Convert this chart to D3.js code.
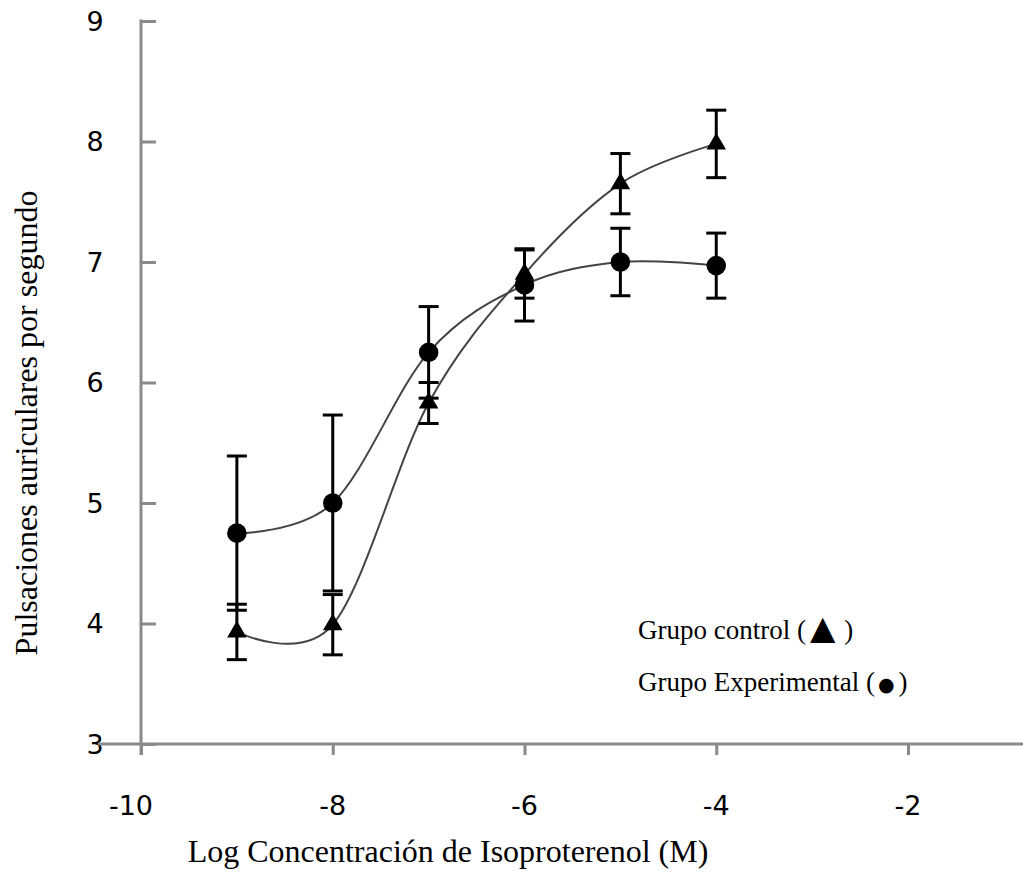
<!DOCTYPE html>
<html>
<head>
<meta charset="utf-8">
<script src="https://cdn.jsdelivr.net/npm/d3@7"></script>
<style>
  body { margin: 0; background: #fff; }
  svg { display: block; }
</style>
</head>
<body>
<div id="chart"></div>
<script>
// log concentration (x) for every dose
var doses = [-9, -8, -7, -6, -5, -4];
// grupo control (triangles)
var controlMean = [3.93, 3.99, 5.83, 6.90, 7.65, 7.98];
var controlErr  = [0.23, 0.25, 0.17, 0.20, 0.25, 0.28];
// grupo experimental (circles)
var expMean = [4.75, 5.00, 6.25, 6.81, 7.00, 6.97];
var expErr  = [0.64, 0.73, 0.38, 0.30, 0.28, 0.27];

var xTicks = [-10, -8, -6, -4, -2];
var yTicks = [3, 4, 5, 6, 7, 8, 9];

var legendLabels = ['Grupo control (', 'Grupo Experimental ('];
var legendSymbols = ['\u25B2', '\u25CF'];

var width = 1023;
var height = 876;

var svg = d3.select('#chart')
    .append('svg')
    .attr('width', width)
    .attr('height', height);

var x = d3.scaleLinear().domain([-10, -2]).range([141, 908]);
var y = d3.scaleLinear().domain([3, 9]).range([744, 21]);

var axisColor = '#8a8a8a';

// y axis, ticks pointing inwards
var yAxis = svg.append('g')
    .attr('transform', 'translate(141,0)')
    .call(d3.axisRight(y).tickValues(yTicks).tickSize(15).tickFormat(''));
yAxis.select('.domain').remove();
yAxis.selectAll('line').attr('stroke', axisColor).attr('stroke-width', 3);
svg.append('line')
    .attr('x1', 141).attr('x2', 141)
    .attr('y1', y(9) - 1.5).attr('y2', 755)
    .attr('stroke', axisColor).attr('stroke-width', 3);

svg.selectAll('.ylab')
    .data(yTicks)
    .enter()
    .append('text')
    .attr('class', 'ylab')
    .attr('x', 95)
    .attr('y', function(d) { return y(d); })
    .attr('dy', '0.36em')
    .attr('text-anchor', 'middle')
    .style('font-family', 'DejaVu Sans')
    .style('font-size', '27px')
    .text(function(d) { return d; });

// x axis
var xAxis = svg.append('g')
    .attr('transform', 'translate(0,744)')
    .call(d3.axisBottom(x).tickValues(xTicks).tickSize(11).tickFormat(''));
xAxis.select('.domain').remove();
xAxis.selectAll('line').attr('stroke', axisColor).attr('stroke-width', 3);
svg.append('line')
    .attr('x1', 98).attr('x2', 1023)
    .attr('y1', 744).attr('y2', 744)
    .attr('stroke', axisColor).attr('stroke-width', 3);

svg.selectAll('.xlab')
    .data(xTicks)
    .enter()
    .append('text')
    .attr('class', 'xlab')
    .attr('x', function(d) { return x(d) - (d === -10 ? 10 : 0); })
    .attr('y', 815)
    .attr('text-anchor', 'middle')
    .style('font-family', 'DejaVu Sans')
    .style('font-size', '27px')
    .text(function(d) { return d; });

// axis titles
svg.append('text')
    .attr('x', 448)
    .attr('y', 862)
    .attr('text-anchor', 'middle')
    .style('font-family', 'Liberation Serif')
    .style('font-size', '32px')
    .text('Log Concentración de Isoproterenol (M)');

svg.append('text')
    .attr('transform', 'translate(37,423) rotate(-90)')
    .attr('text-anchor', 'middle')
    .style('font-family', 'Liberation Serif')
    .style('font-size', '32px')
    .text('Pulsaciones auriculares por segundo');

// smoothed lines
var line = d3.line()
    .x(function(d) { return x(d[0]); })
    .y(function(d) { return y(d[1]); })
    .curve(d3.curveCardinal.tension(0));

var series = [
    { mean: controlMean, err: controlErr, symbol: d3.symbolTriangle, size: 165 },
    { mean: expMean, err: expErr, symbol: d3.symbolCircle, size: 300 }
];

series.forEach(function(s) {
    var pts = doses.map(function(d, i) { return [d, s.mean[i], s.err[i]]; });

    svg.append('path')
        .datum(pts)
        .attr('d', line)
        .attr('fill', 'none')
        .attr('stroke', '#444')
        .attr('stroke-width', 2);

    var eb = svg.append('g');
    eb.selectAll('.bar')
        .data(pts)
        .enter()
        .append('line')
        .attr('x1', function(d) { return x(d[0]); })
        .attr('x2', function(d) { return x(d[0]); })
        .attr('y1', function(d) { return y(d[1] + d[2]); })
        .attr('y2', function(d) { return y(d[1] - d[2]); })
        .attr('stroke', '#000')
        .attr('stroke-width', 3);
    [1, -1].forEach(function(sign) {
        eb.selectAll('.cap' + sign)
            .data(pts)
            .enter()
            .append('line')
            .attr('x1', function(d) { return x(d[0]) - 10; })
            .attr('x2', function(d) { return x(d[0]) + 10; })
            .attr('y1', function(d) { return y(d[1] + sign * d[2]); })
            .attr('y2', function(d) { return y(d[1] + sign * d[2]); })
            .attr('stroke', '#000')
            .attr('stroke-width', 3);
    });

    svg.append('g').selectAll('path')
        .data(pts)
        .enter()
        .append('path')
        .attr('transform', function(d) { return 'translate(' + x(d[0]) + ',' + y(d[1]) + ')'; })
        .attr('d', d3.symbol().type(s.symbol).size(s.size))
        .attr('fill', '#000');
});

// legend
var legend = svg.selectAll('.legend')
    .data(legendLabels)
    .enter()
    .append('text')
    .attr('class', 'legend')
    .attr('x', 638)
    .attr('y', function(d, i) { return 639 + i * 52; })
    .style('font-family', 'Liberation Serif')
    .style('font-size', '27px');
legend.append('tspan').text(function(d) { return d; });
legend.append('tspan')
    .attr('dx', function(d, i) { return i === 0 ? 4 : 3; })
    .style('font-family', 'DejaVu Sans')
    .style('font-size', function(d, i) { return i === 0 ? '33px' : '19px'; })
    .text(function(d, i) { return legendSymbols[i]; });
legend.append('tspan')
    .attr('dx', function(d, i) { return i === 0 ? 9 : 4; })
    .text(')');
</script>
</body>
</html>
